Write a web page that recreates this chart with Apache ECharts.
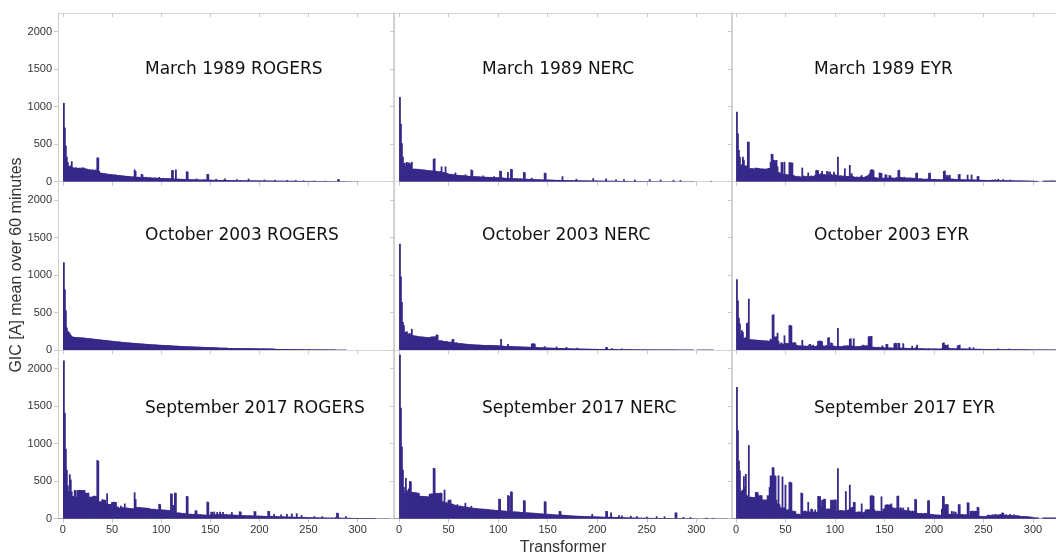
<!DOCTYPE html>
<html><head><meta charset="utf-8">
<script src="https://cdn.jsdelivr.net/npm/echarts@6/dist/echarts.min.js"></script>
<style>html,body{margin:0;padding:0;background:#fff}#c{width:1056px;height:555px}</style>
</head><body><div id="c"></div>
<script>
// GIC [A] mean over 60 minutes, per transformer (index 1..N)
const rogers1989 = [
1050,720,480,330,260,210,200,215,270,190,
185,180,190,185,180,178,185,182,175,188,
185,180,170,172,168,160,165,158,150,162,
155,150,160,150,320,318,140,118,115,115,
112,110,108,105,105,100,98,100,96,95,
95,92,90,92,88,85,88,84,82,80,
78,80,76,74,75,72,70,72,68,66,
65,70,160,140,62,60,64,58,60,100,
95,60,58,56,62,54,55,52,58,50,
52,50,48,55,50,46,48,60,45,46,
44,48,42,45,40,44,42,40,42,38,
150,152,40,38,160,36,35,38,34,36,
33,35,32,34,30,135,132,32,30,28,
30,28,27,30,26,40,28,25,27,24,
26,25,24,30,26,24,100,98,24,22,
24,22,20,23,21,35,20,22,19,21,
20,18,22,19,40,18,20,17,19,18,
17,19,16,18,17,16,30,17,15,16,
18,15,16,14,17,15,14,16,38,14,
15,13,16,14,13,15,12,14,13,12,
14,12,13,11,25,12,13,11,12,10,
12,11,10,12,11,22,10,11,9,10,
11,9,10,9,11,10,8,20,9,10,
8,9,10,8,9,8,18,9,8,7,
9,8,7,8,15,7,8,6,7,8,
7,6,8,7,6,12,7,6,5,7,
6,5,7,6,5,6,10,5,6,5,
4,6,5,4,5,4,6,4,5,28,
30,5,4,3,5,4,3,4,3,2,
3,0,4,3,0,2,3,0,3,2];

const nerc1989 = [
1130,770,510,330,240,250,205,260,240,255,
230,245,262,170,168,172,165,170,162,168,
160,165,158,162,155,160,150,155,148,152,
145,150,142,148,300,310,145,140,138,135,
132,140,200,128,125,120,200,118,110,105,
100,98,102,95,92,98,120,90,88,85,
88,82,85,80,84,78,95,76,80,74,
72,75,160,150,70,68,72,66,70,65,
68,64,66,62,80,60,64,58,62,60,
58,62,56,60,55,70,54,58,52,56,
54,144,140,50,52,48,50,46,48,126,
46,44,166,162,44,42,45,40,42,38,
40,38,42,36,38,126,122,35,34,36,
33,35,32,50,30,32,29,31,28,30,
27,29,26,28,25,27,117,112,25,24,
26,23,25,22,24,21,23,20,22,21,
20,22,19,21,70,20,18,20,17,19,
18,17,19,16,18,15,17,16,35,15,
16,14,15,13,15,14,13,15,12,14,
13,12,14,11,13,45,12,11,13,10,
12,11,10,12,9,11,10,9,40,10,
9,10,8,9,10,8,9,7,28,8,
7,9,8,7,8,6,30,7,6,8,
6,7,5,6,7,5,6,25,5,6,
5,6,4,5,6,4,5,4,5,4,
5,4,30,4,5,3,4,3,4,5,
3,4,3,25,4,3,4,3,2,4,
3,2,3,4,2,3,20,3,2,3,
2,3,2,18,3,2,3,2,3,2,
3,2,2,3,2,2,3,2,0,0,
0,0,0,0,0,0,0,0,0,0,
0,0,0,0,8];

const eyr1989 = [
930,640,420,330,220,230,330,290,210,215,
205,530,530,175,180,172,178,170,175,185,
180,182,175,178,172,168,175,170,165,172,
168,175,180,178,260,370,365,290,285,280,
288,200,120,125,110,260,255,100,262,95,
100,90,95,255,258,250,252,85,80,72,
68,75,65,70,62,68,185,80,72,68,
75,70,120,65,72,80,68,75,70,90,
150,155,148,100,95,110,140,90,100,95,
88,140,130,85,135,100,92,88,130,95,
90,85,330,80,78,82,75,70,80,175,
72,68,75,70,220,80,110,72,65,62,
60,65,58,62,55,70,85,60,58,62,
68,75,80,90,110,155,162,160,150,60,
55,52,50,48,120,110,115,50,48,52,
95,90,50,48,85,80,55,52,48,50,
45,60,48,150,155,60,55,58,50,62,
48,55,45,52,48,55,42,50,45,48,
42,115,118,40,38,42,36,40,35,38,
34,36,32,40,115,118,35,32,30,33,
30,32,28,30,27,29,26,28,30,140,
145,90,60,85,70,88,40,35,38,32,
35,30,33,28,95,100,30,28,26,30,
28,25,27,90,30,24,26,92,25,28,
22,25,24,70,72,22,20,23,21,20,
22,18,21,19,20,17,19,18,25,20,
18,30,17,19,35,16,18,15,17,30,
16,18,15,17,14,16,25,15,14,16,
13,15,12,14,13,15,12,13,11,12,
11,12,10,11,12,10,9,11,10,9,
10,8,9,8,7,0,0,0,0,8,
10,9,12,10,9,11,10,12,11,10,
12,10,11,9,10,12,11,10,9,10];

const rogers2003 = [
1170,810,530,300,255,240,225,200,185,178,
175,174,172,172,171,170,169,168,167,166,
165,163,162,160,159,158,156,155,153,152,
150,149,147,146,144,143,141,140,138,137,
135,134,132,131,129,128,126,125,123,122,
120,119,118,116,115,114,112,111,110,108,
107,106,105,103,102,101,100,99,97,96,
95,94,93,92,91,90,89,88,87,86,
85,84,83,82,81,80,79,78,77,76,
75,74,74,73,72,71,70,69,69,68,
68,67,66,65,65,64,63,62,62,61,
60,59,58,58,57,56,55,55,54,53,
53,52,51,51,50,49,49,48,48,47,
47,46,46,45,45,44,44,43,43,42,
42,41,41,40,40,39,39,38,38,37,
37,37,36,36,35,35,34,33,32,31,
31,30,30,30,29,29,29,28,28,28,
28,27,27,27,27,26,26,26,26,25,
25,25,25,25,24,24,24,24,24,23,
23,23,23,23,22,22,22,22,22,21,
21,21,21,21,20,20,20,20,20,19,
19,19,18,18,17,16,15,14,13,13,
13,12,12,12,12,12,12,11,11,11,
11,11,11,11,10,10,10,10,10,10,
10,10,9,9,9,9,9,9,9,9,
9,8,8,8,8,8,8,8,8,8,
7,7,7,7,7,7,7,7,7,6,
6,6,6,6,6,6,6,5,5,5,
5,5,5,5,4,4,4,4];

const nerc2003 = [
1420,980,640,375,330,245,240,250,220,215,
225,210,283,200,195,190,192,188,185,182,
180,178,182,175,178,172,175,170,172,168,
170,175,180,178,182,175,185,208,200,130,
128,125,130,122,120,118,115,120,112,110,
108,112,105,146,145,100,98,102,95,92,
90,88,92,85,88,82,85,80,82,78,
80,76,78,74,76,72,74,70,72,70,
72,68,70,67,68,65,67,64,66,63,
68,64,66,63,64,61,63,60,62,59,
60,58,146,56,57,54,55,53,54,80,
52,53,50,51,49,50,48,49,47,48,
46,47,45,46,44,45,43,44,42,43,
41,42,40,85,88,86,84,42,38,37,
36,35,36,34,35,33,50,32,33,31,
32,30,31,29,30,28,29,27,45,28,
27,26,27,25,26,24,25,23,40,24,
22,23,21,22,20,21,19,20,19,30,
18,19,17,18,17,18,16,17,16,17,
15,16,15,16,14,15,14,15,13,14,
14,13,14,13,12,13,12,13,40,35,
12,13,11,12,25,11,12,10,11,12,
10,11,10,11,20,10,9,10,9,10,
9,10,9,8,9,8,9,8,9,8,
8,9,8,7,8,7,8,7,8,7,
7,8,7,6,7,6,7,6,7,6,
6,7,6,6,7,6,6,7,6,6,
6,6,7,6,6,6,6,6,6,6,
5,5,5,5,5,5,5,5,5,5,
5,5,5,5,5,5,5,0,0,0,
4,4,4,4,4,4,4,4,4,4,
4,4,4,4,4,4,4];

const eyr2003 = [
945,660,430,355,210,265,240,165,160,170,
360,365,685,140,145,138,142,135,140,138,
132,136,130,134,128,132,126,130,124,128,
122,126,120,124,150,135,470,475,180,175,
182,230,120,75,90,100,85,80,195,90,
95,88,92,330,335,325,100,95,105,98,
70,65,60,58,62,55,135,60,55,58,
52,56,50,75,80,60,55,70,52,50,
55,60,120,125,118,122,115,60,55,58,
65,60,165,170,55,100,95,60,58,55,
52,50,295,55,50,48,52,50,60,58,
55,62,60,58,150,155,60,55,155,50,
48,52,45,50,48,55,50,70,65,60,
58,62,55,180,185,182,188,45,40,42,
38,40,36,42,38,35,40,60,35,32,
34,80,78,30,32,35,30,28,32,90,
95,92,30,95,92,28,30,32,90,28,
30,26,28,25,27,24,26,55,22,25,
23,40,70,22,20,24,21,23,19,22,
20,18,21,19,22,18,20,17,19,18,
21,17,19,16,18,20,17,22,95,100,
70,68,60,72,30,25,22,20,24,21,
23,19,22,60,65,70,20,18,21,19,
18,20,17,19,16,40,18,17,15,35,
16,14,17,15,13,16,14,15,13,14,
12,14,13,11,13,12,11,14,12,11,
13,11,12,10,20,11,10,12,11,10,
12,10,9,11,10,18,9,10,11,9,
10,9,11,8,10,9,8,10,9,8,
9,8,10,9,8,7,9,8,7,8,
7,8,6,7,8,6,7,6,7,6,
7,6,5,7,6,5,6,5,6,5,
6,5,6,5,4,6,5,4,5,4];

const rogers2017 = [
2110,1410,930,650,440,365,590,520,360,300,
295,380,375,290,378,380,382,378,380,376,
380,378,345,342,340,345,290,288,292,290,
300,305,300,295,780,770,230,225,228,255,
252,250,248,200,335,195,190,192,188,220,
218,222,215,220,150,160,140,145,170,155,
150,145,200,140,148,138,142,135,140,132,
138,130,350,260,150,155,148,152,150,145,
148,142,146,140,144,138,142,136,130,128,
125,130,122,128,120,124,118,195,190,122,
118,115,120,112,116,110,114,108,112,335,
330,180,175,345,340,80,75,82,70,78,
72,68,75,65,70,300,295,62,58,65,
60,55,62,58,110,105,55,60,52,58,
50,55,48,52,50,46,225,220,48,52,
90,88,55,92,50,58,85,52,60,90,
55,62,88,50,58,60,52,55,48,56,
50,85,48,52,45,50,46,48,44,95,
90,45,42,46,40,44,38,42,40,45,
38,42,36,40,98,95,38,35,40,36,
34,38,32,36,35,30,34,32,100,98,
30,35,32,28,60,30,32,28,30,26,
28,55,26,30,25,28,24,60,26,23,
25,22,65,24,21,23,20,70,22,19,
21,18,45,20,17,19,16,18,15,17,
16,14,17,15,13,30,14,12,15,13,
12,14,11,30,12,10,13,11,10,12,
11,9,12,10,9,11,10,20,76,72,
12,9,11,8,10,9,8,30,9,8,
7,9,8,7,6,8,7,6,8,7,
6,7,5,6,5,7,6,5,6,5,
5,6,5,4,5,6,4,5];

const nerc2017 = [
2190,1480,960,650,420,345,540,380,350,400,
500,495,355,350,352,348,350,345,340,342,
305,300,298,302,296,300,294,298,290,295,
330,325,335,330,675,670,340,338,342,335,
340,345,338,230,225,385,210,220,205,250,
245,252,200,195,190,185,180,175,190,170,
165,172,160,168,155,162,208,150,158,145,
152,140,168,145,138,142,135,140,132,136,
130,134,128,132,125,130,122,128,120,125,
118,122,115,120,112,118,110,115,108,112,
265,260,105,110,100,108,98,104,95,310,
305,100,362,358,95,90,98,88,94,85,
92,82,88,80,86,243,240,78,84,76,
82,74,80,72,78,70,76,68,74,66,
72,64,70,62,68,60,230,225,58,64,
56,62,54,60,52,58,50,56,48,54,
47,100,98,52,46,50,44,48,42,46,
40,44,38,42,36,40,35,38,34,37,
33,36,32,35,31,34,30,33,29,32,
28,31,27,30,60,29,26,28,25,27,
24,26,23,25,22,24,21,23,100,98,
22,20,24,80,22,19,21,18,20,17,
19,45,18,16,40,17,15,16,14,15,
13,14,12,35,13,11,12,10,11,30,
10,12,9,11,10,8,10,9,8,25,
9,8,7,9,8,7,8,6,7,30,
7,6,8,6,7,5,6,28,6,5,
6,5,7,5,6,5,4,6,80,78,
5,4,6,4,5,4,20,4,3,4,
3,4,3,18,3,4,2,3,0,0,
0,0,0,0,0,0,0,0,0,8,
8,0,0,0,0,0,6,6,0,0];

const eyr2017 = [
1755,1180,770,640,375,365,385,565,420,595,
310,305,980,285,290,288,282,286,280,350,
355,348,310,305,312,308,250,255,248,252,
250,310,305,420,575,570,685,680,575,570,
250,200,575,190,150,145,560,140,150,450,
120,115,125,485,490,480,100,105,95,98,
62,58,65,60,55,345,340,100,95,105,
98,90,220,95,88,130,125,92,85,120,
90,85,300,295,298,160,250,245,265,260,
130,125,135,128,132,252,248,250,245,255,
250,105,670,110,108,112,105,110,100,108,
365,110,115,120,450,150,145,155,220,218,
85,90,82,95,88,92,200,85,80,90,
120,115,125,118,122,305,310,308,300,120,
100,95,105,98,102,95,295,100,130,135,
185,180,190,185,182,188,200,150,140,145,
135,140,300,305,120,150,140,110,145,115,
108,112,105,150,110,100,95,105,98,102,
260,255,75,70,72,68,74,65,70,68,
72,66,70,240,245,62,58,55,60,52,
50,55,48,52,50,46,48,130,300,295,
190,185,192,188,60,62,58,100,65,95,
60,90,55,62,190,188,58,55,60,52,
55,50,58,215,212,52,100,98,105,95,
100,102,98,155,150,35,32,30,35,28,
30,32,28,45,50,42,48,40,55,45,
50,60,42,55,48,52,60,58,80,75,
50,45,55,40,48,42,60,38,45,40,
55,42,38,45,35,40,30,35,28,32,
30,28,32,25,30,22,28,20,25,18,
15,12,14,10,12,0,0,0,0,10,
12,10,14,11,12,10,13,11,12,10,
11,12,10,13,11,12,10,11,12,10];

const panelTitles = [
  'March 1989 ROGERS', 'March 1989 NERC', 'March 1989 EYR',
  'October 2003 ROGERS', 'October 2003 NERC', 'October 2003 EYR',
  'September 2017 ROGERS', 'September 2017 NERC', 'September 2017 EYR'];
const panelData = [rogers1989, nerc1989, eyr1989, rogers2003, nerc2003, eyr2003, rogers2017, nerc2017, eyr2017];
const xTicks = [0, 50, 100, 150, 200, 250, 300];
const yTicks = [0, 500, 1000, 1500, 2000];
const yMax = 2250;
const xAxisName = 'Transformer';
const yAxisName = 'GIC [A] mean over 60 minutes';

// layout
const colLeft = [58, 394, 732], colWidth = [335, 337, 336.6];
const colMin = [-5, -5, -4], colMax = [336, 335, 336];
const rowTop = [13, 181.5, 350], rowH = 168.5;
const titleX = [145, 482, 814], titleY = [70, 236, 409];
const barColor = '#36298a';
const FONT = '"Liberation Sans", Arial, sans-serif';
const plain = v => String(v);

const grids = [], xAxes = [], yAxes = [], series = [], graphics = [];
panelData.forEach((d, i) => {
  const r = Math.floor(i / 3), c = i % 3;
  grids.push({left: colLeft[c], top: rowTop[r], width: colWidth[c], height: rowH, containLabel: false, outerBoundsMode: 'none'});
  xAxes.push({
    type: 'value', gridIndex: i, position: 'bottom', min: colMin[c], max: colMax[c],
    axisLine: {show: true, onZero: false, lineStyle: {color: '#9a9a9a', width: 1.2}},
    axisTick: {show: true, customValues: xTicks, length: 4, lineStyle: {color: '#c4c4c4'}},
    axisLabel: {show: r === 2, customValues: xTicks, formatter: plain, margin: 6, fontSize: 11, color: '#333', fontFamily: FONT},
    splitLine: {show: false}
  });
  xAxes.push({
    type: 'value', gridIndex: i, position: 'top', min: colMin[c], max: colMax[c],
    axisLine: {show: true, onZero: false, lineStyle: {color: '#d6d6d6'}},
    axisTick: {show: true, inside: true, customValues: xTicks, length: 4, lineStyle: {color: '#c8c8c8'}},
    axisLabel: {show: false}, splitLine: {show: false}
  });
  yAxes.push({
    type: 'value', gridIndex: i, position: 'left', min: 0, max: yMax,
    axisLine: {show: true, onZero: false, lineStyle: {color: '#cfcfcf'}},
    axisTick: {show: true, customValues: yTicks, length: 4, lineStyle: {color: '#c8c8c8'}},
    axisLabel: {show: c === 0, customValues: yTicks, formatter: plain, margin: 6, fontSize: 11, color: '#333', fontFamily: FONT},
    splitLine: {show: false}
  });
  yAxes.push({
    type: 'value', gridIndex: i, position: 'right', min: 0, max: yMax,
    axisLine: {show: true, onZero: false, lineStyle: {color: '#d6d6d6'}},
    axisTick: {show: false}, axisLabel: {show: false}, splitLine: {show: false}
  });
  series.push({
    type: 'bar', xAxisIndex: 2 * i, yAxisIndex: 2 * i,
    data: d.map((v, k) => [k + 1, v]),
    barWidth: 1.8, itemStyle: {color: barColor}, silent: true, large: false
  });
  graphics.push({
    type: 'text', x: titleX[c], y: titleY[r], silent: true,
    style: {text: panelTitles[i], font: '17px "DejaVu Sans", Verdana, sans-serif', fill: '#111', align: 'left', verticalAlign: 'middle'}
  });
});
graphics.push({type: 'text', x: 563, y: 548, silent: true,
  style: {text: xAxisName, font: '16px ' + FONT, fill: '#333', align: 'center', verticalAlign: 'middle'}});
graphics.push({type: 'text', x: 17, y: 265, rotation: Math.PI / 2, silent: true,
  style: {text: yAxisName, font: '16px ' + FONT, fill: '#333', align: 'center', verticalAlign: 'middle'}});

const chart = echarts.init(document.getElementById('c'), null, {renderer: 'canvas'});
chart.setOption({
  animation: false, backgroundColor: '#fff',
  grid: grids, xAxis: xAxes, yAxis: yAxes, series: series, graphic: graphics
});
</script></body></html>
